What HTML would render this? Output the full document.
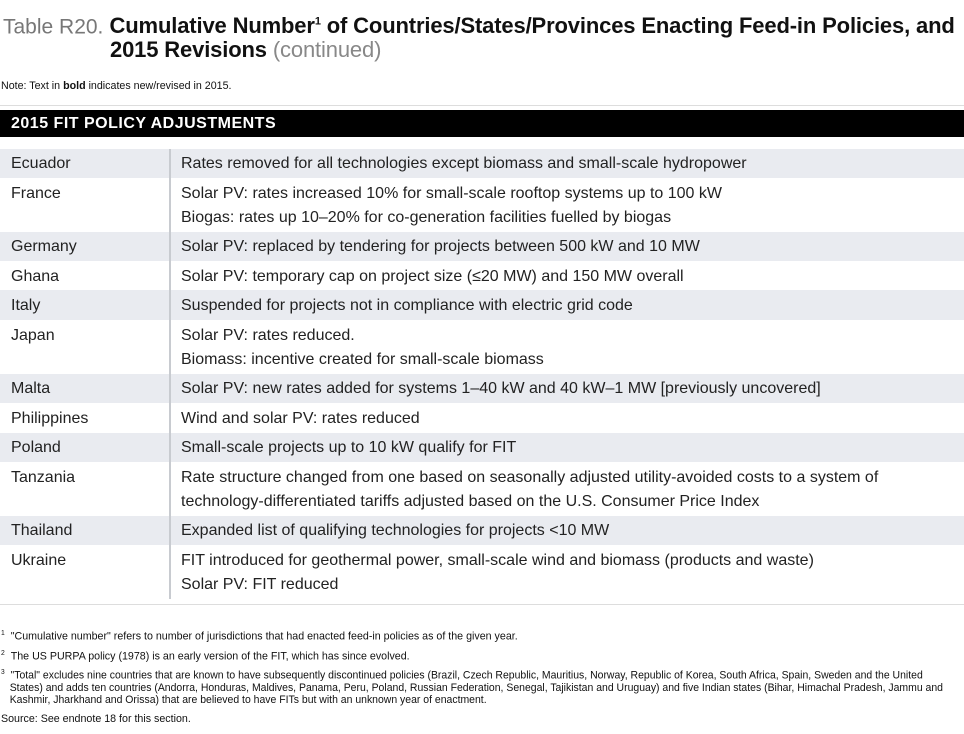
<!DOCTYPE html><html><head><style>
body{margin:0;width:964px;height:734px;background:#fff;position:relative;overflow:hidden;font-family:"Liberation Sans",sans-serif;color:#222}
.a{position:absolute;white-space:nowrap}
.r{position:absolute;left:0;width:964px}
.g{background:#e9ebf0}
.t{position:absolute;font-size:16px;line-height:24px;white-space:nowrap}
.n{font-family:"Liberation Sans Narrow","Liberation Sans",sans-serif;font-size:11px;color:#111;transform:scaleX(0.97);transform-origin:0 0}
</style></head><body>
<div class="a" style="left:3px;top:7px;font-size:22px;line-height:30px;color:#111">
<span style="color:#777;font-size:21px">Table R20.</span> <span style="font-weight:bold;letter-spacing:-0.15px">Cumulative Number<sup style="font-size:11px">1</sup> of Countries/States/Provinces Enacting Feed-in Policies, and</span></div>
<div class="a" style="left:110px;top:35px;font-size:22px;line-height:30px;color:#111;letter-spacing:-0.15px"><b>2015 Revisions</b> <span style="color:#888">(continued)</span></div>
<div class="a n" style="left:1px;top:80px">Note: Text in <b>bold</b> indicates new/revised in 2015.</div>
<div class="r" style="top:105px;height:1px;background:#ddd"></div>
<div class="r" style="top:110px;height:27px;background:#000"></div>
<div class="a" style="left:11px;top:113px;color:#fff;font-weight:bold;font-size:16px;line-height:22px;letter-spacing:0.5px">2015 FIT POLICY ADJUSTMENTS</div>

<div class="r g" style="top:149px;height:29px"></div>
<div class="r g" style="top:232px;height:29px"></div>
<div class="r g" style="top:290px;height:30px"></div>
<div class="r g" style="top:374px;height:29px"></div>
<div class="r g" style="top:433px;height:29px"></div>
<div class="r g" style="top:516px;height:29px"></div>
<div class="a" style="left:169px;top:149px;width:2px;height:450px;background:#c8cbd0"></div>

<div class="t" style="left:11px;top:152px">Ecuador</div>
<div class="t" style="left:181px;top:152px">Rates removed for all technologies except biomass and small-scale hydropower</div>
<div class="t" style="left:11px;top:182px">France</div>
<div class="t" style="left:181px;top:182px">Solar PV: rates increased 10% for small-scale rooftop systems up to 100 kW<br>Biogas: rates up 10–20% for co-generation facilities fuelled by biogas</div>
<div class="t" style="left:11px;top:235px">Germany</div>
<div class="t" style="left:181px;top:235px">Solar PV: replaced by tendering for projects between 500 kW and 10 MW</div>
<div class="t" style="left:11px;top:265px">Ghana</div>
<div class="t" style="left:181px;top:265px">Solar PV: temporary cap on project size (≤20 MW) and 150 MW overall</div>
<div class="t" style="left:11px;top:294px">Italy</div>
<div class="t" style="left:181px;top:294px">Suspended for projects not in compliance with electric grid code</div>
<div class="t" style="left:11px;top:324px">Japan</div>
<div class="t" style="left:181px;top:324px">Solar PV: rates reduced.<br>Biomass: incentive created for small-scale biomass</div>
<div class="t" style="left:11px;top:377px">Malta</div>
<div class="t" style="left:181px;top:377px">Solar PV: new rates added for systems 1–40 kW and 40 kW–1 MW [previously uncovered]</div>
<div class="t" style="left:11px;top:407px">Philippines</div>
<div class="t" style="left:181px;top:407px">Wind and solar PV: rates reduced</div>
<div class="t" style="left:11px;top:436px">Poland</div>
<div class="t" style="left:181px;top:436px">Small-scale projects up to 10 kW qualify for FIT</div>
<div class="t" style="left:11px;top:466px">Tanzania</div>
<div class="t" style="left:181px;top:466px">Rate structure changed from one based on seasonally adjusted utility-avoided costs to a system of<br>technology-differentiated tariffs adjusted based on the U.S. Consumer Price Index</div>
<div class="t" style="left:11px;top:519px">Thailand</div>
<div class="t" style="left:181px;top:519px">Expanded list of qualifying technologies for projects &lt;10 MW</div>
<div class="t" style="left:11px;top:549px">Ukraine</div>
<div class="t" style="left:181px;top:549px">FIT introduced for geothermal power, small-scale wind and biomass (products and waste)<br>Solar PV: FIT reduced</div>
<div class="r" style="top:604px;height:1px;background:#ddd"></div>

<div class="a n" style="left:1px;top:627px;line-height:13px"><sup style="font-size:7px">1</sup> &nbsp;"Cumulative number" refers to number of jurisdictions that had enacted feed-in policies as of the given year.</div>
<div class="a n" style="left:1px;top:647px;line-height:13px"><sup style="font-size:7px">2</sup> &nbsp;The US PURPA policy (1978) is an early version of the FIT, which has since evolved.</div>
<div class="a n" style="left:1px;top:667px;line-height:12px;transform:scaleX(0.95)"><sup style="font-size:7px">3</sup> &nbsp;"Total" excludes nine countries that are known to have subsequently discontinued policies (Brazil, Czech Republic, Mauritius, Norway, Republic of Korea, South Africa, Spain, Sweden and the United<br>&nbsp;&nbsp;&nbsp;States) and adds ten countries (Andorra, Honduras, Maldives, Panama, Peru, Poland, Russian Federation, Senegal, Tajikistan and Uruguay) and five Indian states (Bihar, Himachal Pradesh, Jammu and<br>&nbsp;&nbsp;&nbsp;Kashmir, Jharkhand and Orissa) that are believed to have FITs but with an unknown year of enactment.</div>
<div class="a n" style="left:1px;top:713px;line-height:13px">Source: See endnote 18 for this section.</div>
</body></html>
